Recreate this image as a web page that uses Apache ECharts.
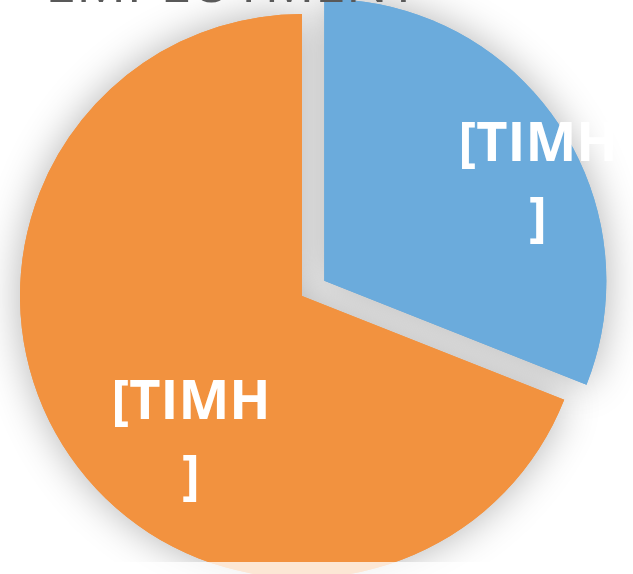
<!DOCTYPE html>
<html>
<head>
<meta charset="utf-8">
<script src="https://cdn.jsdelivr.net/npm/echarts@6/dist/echarts.min.js"></script>
<style>
html,body{margin:0;padding:0;background:#fff;}
#c{width:633px;height:574px;}
</style>
</head>
<body>
<div id="c"></div>
<script>
const titleText = 'EMPLOYMENT';
const categories = ['Blue', 'Orange'];
const values = [31, 69];
const labels = ['[TIMH\n]', '[TIMH\n]'];
const colors = ['#6BABDC', '#F2923F'];
const explode = [true, false];

const labelPos = [[538, 183], [191, 441]];

const CX = 302, CY = 296, R = 282, OFFSET = 27;

const chart = echarts.init(document.getElementById('c'), null, {renderer: 'canvas'});

// compute centre of exploded slice from the data
const total = values.reduce((a, b) => a + b, 0);
function sliceCenter(idx) {
  let before = 0;
  for (let i = 0; i < idx; i++) before += values[i];
  const mid = (before + values[idx] / 2) / total * 2 * Math.PI;
  return [CX + OFFSET * Math.sin(mid), CY - OFFSET * Math.cos(mid)];
}

const common = {
  type: 'pie',
  radius: [0, R],
  startAngle: 90,
  clockwise: true,
  avoidLabelOverlap: false,
  animation: false,
  emphasis: {disabled: true},
  labelLine: {show: false}
};

const labelStyle = {
  show: true,
  position: 'inside',
  color: '#ffffff',
  fontFamily: 'Open Sans',
  fontWeight: 'bold',
  fontSize: 54,
  lineHeight: 75,
  align: 'center'
};

const series = [];
// shadow layer
series.push(Object.assign({}, common, {
  center: [CX, CY],
  silent: true,
  z: 1,
  selectedMode: 'multiple',
  selectedOffset: OFFSET,
  data: categories.map((c, i) => ({
    name: c, value: values[i], selected: explode[i],
    itemStyle: {color: colors[i]}
  })),
  label: {show: false},
  itemStyle: {shadowBlur: 40, shadowColor: 'rgba(0,0,0,0.3)'}
}));
// one crisp layer per slice
categories.forEach((c, k) => {
  series.push(Object.assign({}, common, {
    center: explode[k] ? sliceCenter(k) : [CX, CY],
    z: 2,
    silent: true,
    data: categories.map((cc, i) => ({
      name: cc, value: values[i],
      itemStyle: {color: i === k ? colors[i] : 'rgba(0,0,0,0)'},
      label: i === k ? {formatter: labels[i]} : {show: false}
    })),
    label: labelStyle,
    labelLayout: function (p) {
      if (p.dataIndex !== k) return {};
      const pos = labelPos[k];
      return {x: pos[0], y: pos[1], align: 'center', verticalAlign: 'middle'};
    }
  }));
});

chart.setOption({
  backgroundColor: '#ffffff',
  title: {
    text: titleText,
    left: 40,
    top: -47,
    textStyle: {
      color: '#595959',
      fontFamily: 'Open Sans',
      fontWeight: 'normal',
      fontSize: 56,
      lineHeight: 56
    }
  },
  series: series,
  graphic: [{
    type: 'rect',
    z: 100,
    shape: {x: 0, y: 562, width: 633, height: 12},
    style: {fill: 'rgba(255,255,255,0.78)'}
  }]
});
</script>
</body>
</html>
